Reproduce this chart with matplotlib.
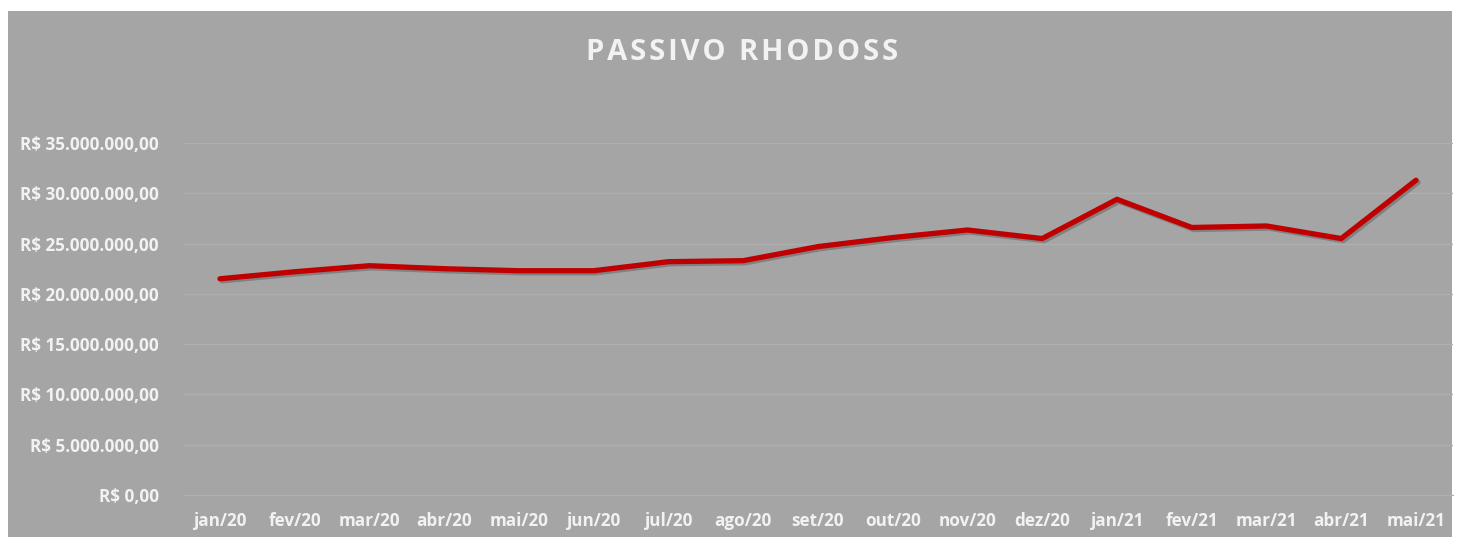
import matplotlib.pyplot as plt
import matplotlib.patheffects as pe
from matplotlib.patches import Rectangle
from matplotlib.ticker import FuncFormatter

# dados (R$)
meses = ['jan/20', 'fev/20', 'mar/20', 'abr/20', 'mai/20', 'jun/20', 'jul/20', 'ago/20',
         'set/20', 'out/20', 'nov/20', 'dez/20', 'jan/21', 'fev/21', 'mar/21', 'abr/21', 'mai/21']
passivo = [21.5e6, 22.2e6, 22.8e6, 22.5e6, 22.3e6, 22.3e6, 23.2e6, 23.3e6,
           24.7e6, 25.6e6, 26.35e6, 25.5e6, 29.4e6, 26.6e6, 26.75e6, 25.5e6, 31.3e6]
titulo = 'PASSIVO RHODOSS'

bg = '#a5a5a5'
txt = '#f2f2f2'
plt.rcParams['font.family'] = ['Open Sans', 'DejaVu Sans']

fig = plt.figure(figsize=(14.61, 5.4), dpi=100)
fig.patch.set_facecolor('white')
fig.patches.append(Rectangle((8 / 1461, 1 - 537 / 540), 1444 / 1461, 526 / 540,
                             transform=fig.transFigure, facecolor=bg, edgecolor='none', zorder=-10))

ax = fig.add_axes([182.6 / 1461, 1 - 495 / 540, (1453.4 - 182.6) / 1461, 352 / 540])
ax.set_zorder(5)
ax.patch.set_alpha(0)

x = list(range(len(meses)))
ax.plot(x, passivo, color='#c00000', lw=3.8, solid_capstyle='round', solid_joinstyle='round',
        path_effects=[pe.SimpleLineShadow(offset=(1.5, -1.5), shadow_color='#555555', alpha=0.45),
                      pe.Normal()], zorder=3)

ax.set_xlim(-0.5, len(meses) - 0.5)
ax.set_ylim(0, 35e6)
ax.set_yticks([i * 5e6 for i in range(8)])
ax.yaxis.set_major_formatter(FuncFormatter(
    lambda v, p: 'R$ ' + f'{v:,.2f}'.replace(',', 'X').replace('.', ',').replace('X', '.')))
ax.set_xticks(x)
ax.set_xticklabels(meses)

ax.grid(axis='y', color='#afafaf', lw=1)
ax.set_axisbelow(True)
for s in ax.spines.values():
    s.set_visible(False)
ax.spines['bottom'].set_visible(True)
ax.spines['bottom'].set_color('#afafaf')
ax.tick_params(length=0, colors=txt, labelsize=12.3)
ax.tick_params(axis='y', pad=17)
ax.tick_params(axis='x', pad=12)
for lab in ax.get_xticklabels() + ax.get_yticklabels():
    lab.set_fontweight('bold')

# espaçamento entre letras do título
fig.text(742 / 1461, 1 - 52 / 540, '\u200a'.join(titulo), ha='center', va='center',
         color=txt, fontsize=21, fontweight='bold')

fig.savefig('out.png', dpi=100, facecolor='white')
